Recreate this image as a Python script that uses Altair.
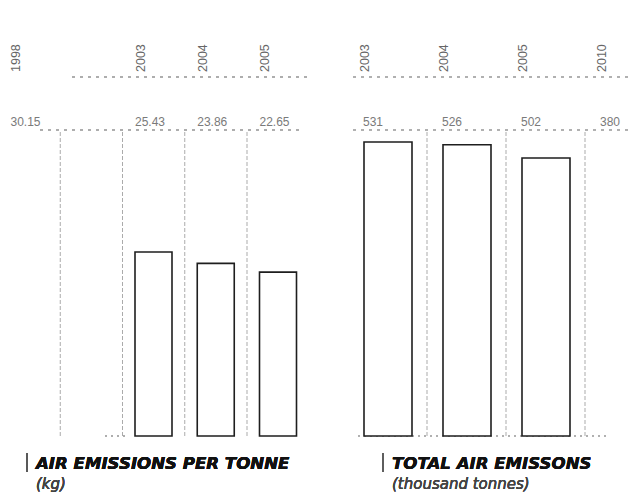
import altair as alt
import pandas as pd

# Left panel: air emissions per tonne (kg)
left_years = ["1998", " ", "2003", "2004", "2005"]
left_values = [30.15, None, 25.43, 23.86, 22.65]
left_labels = ["30.15", "", "25.43", "23.86", "22.65"]
left_bar_years = ["2003", "2004", "2005"]
left_sep_years = [" ", "2003", "2004", "2005"]

# Right panel: total air emissions (thousand tonnes)
right_years = ["2003", "2004", "2005", "2010"]
right_values = [531, 526, 502, 380]
right_labels = ["531", "526", "502", "380"]
right_bar_years = ["2003", "2004", "2005"]
right_sep_years = ["2004", "2005", "2010"]

H = 428
FONT = "Liberation Sans"
TFONT = "DejaVu Sans"
NUM_COLOR = "#7a7a7a"
YEAR_COLOR = "#666666"
LINE_COLOR = "#ababab"


def panel(years, values, labels, bar_years, sep_years, ymax, width, bw,
          sep_off, year_off, val_off, title, subtitle, hlines, base_line, tx):
    df = pd.DataFrame({"year": years, "value": values, "label": labels})
    xs = alt.Scale(type="point", domain=years, padding=0, range=[0, width])
    ys = alt.Scale(domain=[0, ymax], range=[H, 0])
    X = alt.X("year:N", scale=xs, axis=None, sort=years)
    base = alt.Chart(df)

    bars = base.transform_filter(
        alt.FieldOneOfPredicate(field="year", oneOf=bar_years)
    ).mark_bar(fill="white", stroke="#1e1e1e", strokeWidth=1.6, width=bw).encode(
        x=X,
        y=alt.Y("value:Q", scale=ys, axis=None),
    )

    seps = base.transform_filter(
        alt.FieldOneOfPredicate(field="year", oneOf=sep_years)
    ).mark_rule(color=LINE_COLOR, strokeWidth=1, strokeDash=[4, 2], xOffset=sep_off).encode(
        x=X, y=alt.value(124), y2=alt.value(H),
    )

    year_txt = base.mark_text(
        angle=270, align="left", baseline="middle", font=FONT, fontSize=12.5,
        color=YEAR_COLOR, xOffset=year_off,
    ).encode(
        x=X, y=alt.value(64),
        text=alt.condition(alt.datum.year == " ", alt.value(""), "year:N"),
    )

    val_txt = base.mark_text(
        align="left", baseline="middle", font=FONT, fontSize=12, color=NUM_COLOR,
        xOffset=val_off,
    ).encode(x=X, y=alt.value(114), text="label:N")

    layers = [seps]
    for (x1, x2, yy) in hlines:
        layers.append(
            alt.Chart(df).mark_rule(color=LINE_COLOR, strokeDash=[3, 5], strokeWidth=1).encode(
                x=alt.value(x1), x2=alt.value(x2), y=alt.value(yy)
            )
        )
    layers.append(
        alt.Chart(df).mark_rule(color=LINE_COLOR, strokeDash=[2, 4], strokeWidth=1).encode(
            x=alt.value(base_line[0]), x2=alt.value(base_line[1]), y=alt.value(H)
        )
    )
    layers += [bars, year_txt, val_txt]

    tbar = alt.Chart(df).mark_rule(color="#555", strokeWidth=1).encode(
        x=alt.value(tx - 9), y=alt.value(445), y2=alt.value(464)
    )
    ttl = alt.Chart(df).mark_text(
        align="left", baseline="middle", font=TFONT, fontSize=16.6, fontWeight="bold",
        fontStyle="italic", color="#111",
    ).encode(x=alt.value(tx), y=alt.value(456), text=alt.value(title))
    sub = alt.Chart(df).mark_text(
        align="left", baseline="middle", font=TFONT, fontSize=15,
        fontStyle="italic", color="#444",
    ).encode(x=alt.value(tx), y=alt.value(476), text=alt.value(subtitle))
    layers += [tbar, ttl, sub]

    return alt.layer(*layers).properties(width=width, height=H)


# left panel plot area starts at page x ~28.7 (centre of the 1998 column)
left = panel(left_years, left_values, left_labels, left_bar_years, left_sep_years,
             H / 7.236, 249, 37,
             -31, -13, -18.5,
             "AIR EMISSIONS PER TONNE", "(kg)",
             [(43, 278, 69), (11, 271, 122)], (76, 96), 7)
# right panel plot area starts at page x 388 (centre of the 2003 bar)
right = panel(right_years, right_values, right_labels, right_bar_years, right_sep_years,
              H / 0.5537, 237, 48,
              -40, -23, -25,
              "TOTAL AIR EMISSONS", "(thousand tonnes)",
              [(-35, 240, 69), (-35, 240, 122)], (-30, 222), 4)

chart = alt.hconcat(left, right, spacing=110, bounds="flush").properties(
    padding={"left": 2, "top": 0, "right": 0, "bottom": 0}
).configure_view(stroke=None)

chart.save("out.html", embed_options={"renderer": "svg", "actions": False})
